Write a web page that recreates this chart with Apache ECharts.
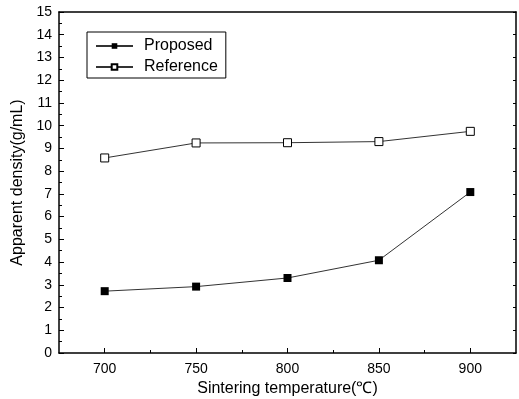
<!DOCTYPE html>
<html>
<head>
<meta charset="utf-8">
<script src="https://cdn.jsdelivr.net/npm/echarts@6/dist/echarts.min.js"></script>
<style>html,body{margin:0;padding:0;background:#fff}#c{width:519px;height:399px}</style>
</head>
<body>
<div id="c"></div>
<script>
const temperatures = [700, 750, 800, 850, 900];
const proposed = [2.72, 2.92, 3.30, 4.08, 7.08];
const reference = [8.58, 9.24, 9.25, 9.30, 9.75];
const xMajorTicks = [700, 750, 800, 850, 900];
const xMinorTicks = [725, 775, 825, 875];

const font = 'Liberation Sans, Arial, sans-serif';
const chart = echarts.init(document.getElementById('c'));
const pair = (arr) => temperatures.map((t, i) => [t, arr[i]]);
chart.setOption({
  animation: false,
  backgroundColor: '#fff',
  grid: { left: 59, right: 3, top: 12, bottom: 46, containLabel: false, outerBoundsMode: 'none' },
  legend: {
    orient: 'vertical', left: 87, top: 32,
    borderColor: '#000', borderWidth: 1, borderRadius: 0,
    padding: [6, 8, 3, 8], itemGap: 5,
    itemWidth: 37, itemHeight: 7,
    textStyle: { fontFamily: font, fontSize: 16, color: '#000', padding: [0, 0, 0, 6] },
    data: ['Proposed', 'Reference']
  },
  xAxis: [
    {
      type: 'value', min: 675, max: 925, interval: 25,
      name: 'Sintering temperature(\u2103)', nameLocation: 'middle', nameGap: 24,
      nameTextStyle: { fontFamily: font, fontSize: 16, color: '#000' },
      axisLine: { lineStyle: { color: '#000', width: 1.5 } },
      axisTick: { inside: true, length: 5, customValues: xMajorTicks, lineStyle: { color: '#000', width: 1 } },
      axisLabel: { customValues: xMajorTicks, fontFamily: font, fontSize: 14, color: '#000', margin: 9 },
      splitLine: { show: false }
    },
    {
      type: 'value', min: 675, max: 925, interval: 25, position: 'bottom',
      axisLine: { show: false },
      axisTick: { inside: true, length: 3, customValues: xMinorTicks, lineStyle: { color: '#000', width: 1 } },
      axisLabel: { show: false }, splitLine: { show: false }
    },
    {
      type: 'value', min: 675, max: 925, interval: 25, position: 'top',
      axisLine: { lineStyle: { color: '#000', width: 1.5 } },
      axisTick: { show: false }, axisLabel: { show: false }, splitLine: { show: false }
    }
  ],
  yAxis: [
    {
      type: 'value', min: 0, max: 15, interval: 1,
      name: 'Apparent density(g/mL)', nameLocation: 'middle', nameGap: 33,
      nameTextStyle: { fontFamily: font, fontSize: 16, color: '#000' },
      axisLine: { show: true, lineStyle: { color: '#000', width: 1.5 } },
      axisTick: { inside: true, length: 5, lineStyle: { color: '#000', width: 1 } },
      minorTick: { show: true, splitNumber: 2, length: 3, lineStyle: { color: '#000', width: 1 } },
      axisLabel: { fontFamily: font, fontSize: 14, color: '#000', margin: 7 },
      splitLine: { show: false }, minorSplitLine: { show: false }
    },
    {
      type: 'value', min: 0, max: 15, interval: 1, position: 'right',
      axisLine: { show: true, lineStyle: { color: '#000', width: 1.5 } },
      axisTick: { inside: true, length: 3, lineStyle: { color: '#000', width: 1 } },
      axisLabel: { show: false }, splitLine: { show: false }
    }
  ],
  series: [
    {
      name: 'Proposed', type: 'line', data: pair(proposed),
      symbol: 'rect', symbolSize: 8,
      itemStyle: { color: '#000', borderColor: '#000', borderWidth: 0 },
      lineStyle: { color: '#333', width: 1 }
    },
    {
      name: 'Reference', type: 'line', data: pair(reference),
      symbol: 'rect', symbolSize: 8,
      itemStyle: { color: '#fff', borderColor: '#000', borderWidth: 1 },
      lineStyle: { color: '#333', width: 1 }
    }
  ]
});
</script>
</body>
</html>
